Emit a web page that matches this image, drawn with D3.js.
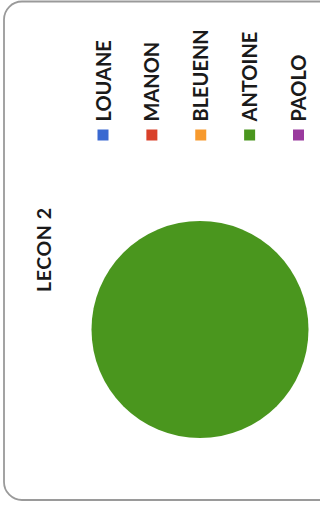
<!DOCTYPE html>
<html>
<head>
<meta charset="utf-8">
<script src="https://cdn.jsdelivr.net/npm/d3@7"></script>
<style>
html,body{margin:0;padding:0;background:#fff;}
svg{display:block;}
</style>
</head>
<body>
<svg id="chart" width="320" height="508"></svg>
<script>
const title = "LECON 2";
const categories = ["LOUANE", "MANON", "BLEUENN", "ANTOINE", "PAOLO"];
const values = [0, 0, 0, 1, 0];
const colors = ["#3a69d1", "#d9412a", "#f79a2e", "#4a961e", "#9a3a9e"];

const svg = d3.select("#chart");

// frame
svg.append("rect")
  .attr("x", 4).attr("y", 1.5)
  .attr("width", 340).attr("height", 498.5)
  .attr("rx", 18).attr("ry", 18)
  .attr("fill", "#fff")
  .attr("stroke", "#9a9a9a")
  .attr("stroke-width", 1.8);

const font = "Lato, 'Open Sans', 'Liberation Sans', sans-serif";

// title (rotated)
svg.append("text")
  .attr("transform", "translate(51,292) rotate(-90)")
  .attr("font-family", font)
  .attr("font-weight", "bold")
  .attr("font-size", 19.5)
  .attr("fill", "#1a1a1a")
  .attr("textLength", 84)
  .text(title);

// legend
const lx = d3.scalePoint().domain(categories).range([103, 298.5]);
const leg = svg.append("g").selectAll("g").data(categories).join("g")
  .attr("transform", d => `translate(${lx(d)},0)`);
leg.append("rect")
  .attr("x", -5.5).attr("y", 129.5)
  .attr("width", 11).attr("height", 11)
  .attr("fill", (d, i) => colors[i]);
leg.append("text")
  .attr("transform", "translate(7.5,121.5) rotate(-90)")
  .attr("font-family", font)
  .attr("font-weight", "bold")
  .attr("font-size", 20)
  .attr("fill", "#1a1a1a")
  .text(d => d);

// pie
const pie = d3.pie().sort(null).value(d => d.v);
const data = categories.map((c, i) => ({c, v: values[i], col: colors[i]}));
const r = 108.5;
const arc = d3.arc().innerRadius(0).outerRadius(r);
svg.append("g").attr("transform", "translate(200,329.5)")
  .selectAll("path").data(pie(data).filter(d => d.value > 0)).join("path")
  .attr("d", arc)
  .attr("fill", d => d.data.col);
</script>
</body>
</html>
